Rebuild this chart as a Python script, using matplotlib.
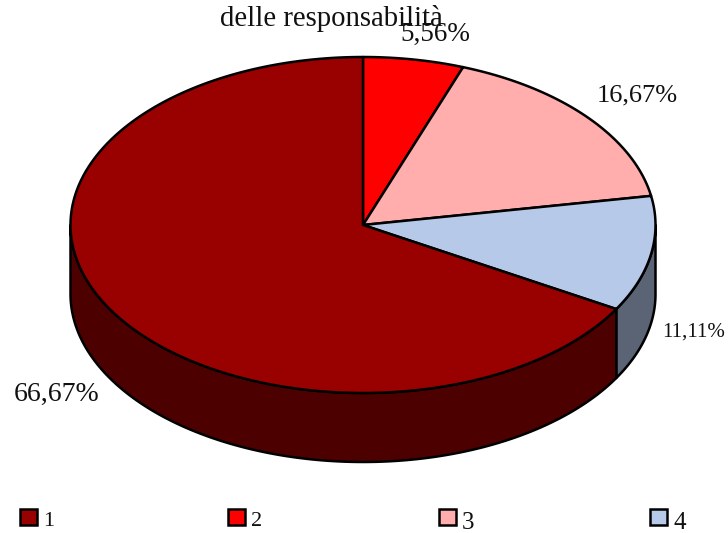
import numpy as np
import matplotlib
matplotlib.use('Agg')
import matplotlib.pyplot as plt
from matplotlib.patches import Polygon, Rectangle

W, H = 728, 533
shares = [66.67, 5.56, 16.67, 11.11]
labels = ['66,67%', '5,56%', '16,67%', '11,11%']
legend_labels = ['1', '2', '3', '4']
colors = ['#990000', '#FF0000', '#FFADAD', '#B7C9E8']
side_colors = ['#4D0000', '#800000', '#805757', '#5B6475']
title = 'delle responsabilità'

fig = plt.figure(figsize=(W/100, H/100), dpi=100)
ax = fig.add_axes([0, 0, 1, 1])
ax.set_xlim(0, W)
ax.set_ylim(H, 0)
ax.axis('off')
plt.rcParams['font.family'] = ['Liberation Serif']

cx, cy, rx, ry, depth = 363, 225, 292.5, 168, 69

def pt(a):
    return cx + rx*np.sin(a), cy - ry*np.cos(a)

total = sum(shares)
order = [1, 2, 3, 0]
starts = {}
a = 0.0
for i in order:
    starts[i] = (a, a + shares[i]/total*2*np.pi)
    a = starts[i][1]

# side walls
for i in order:
    a0, a1 = starts[i]
    lo, hi = max(a0, np.pi/2), min(a1, 3*np.pi/2)
    if lo >= hi:
        continue
    t = np.linspace(lo, hi, 200)
    x, y = pt(t)
    xy = np.r_[np.c_[x, y], np.c_[x[::-1], y[::-1] + depth]]
    ax.add_patch(Polygon(xy, closed=True, fc=side_colors[i], ec='black', lw=1.8, joinstyle='round'))

# top
for i in order:
    a0, a1 = starts[i]
    t = np.linspace(a0, a1, 300)
    x, y = pt(t)
    xy = np.r_[[[cx, cy]], np.c_[x, y]]
    ax.add_patch(Polygon(xy, closed=True, fc=colors[i], ec='black', lw=1.8, joinstyle='round'))

ink = '#111111'
ax.text(331.5, 26, title, ha='center', va='baseline', fontsize=20.7, color=ink)
ax.text(435.5, 41, labels[1], ha='center', va='baseline', fontsize=19.5, color=ink)
ax.text(637.5, 101, labels[2], ha='center', va='baseline', fontsize=19, color=ink)
ax.text(694, 337, labels[3], ha='center', va='baseline', fontsize=15, color=ink)
ax.text(56.5, 401, labels[0], ha='center', va='baseline', fontsize=20, color=ink)

legend_sizes = [16, 16, 18, 18]
legend_base = [526, 526, 529, 529]
for x0, c, s, fsz, yb in zip([20, 228, 439, 650], colors, legend_labels, legend_sizes, legend_base):
    ax.add_patch(Rectangle((x0, 509), 17, 16, fc=c, ec='black', lw=1.8))
    ax.text(x0 + 23, yb, s, ha='left', va='baseline', fontsize=fsz, color=ink)

fig.savefig('out.png', dpi=100)
